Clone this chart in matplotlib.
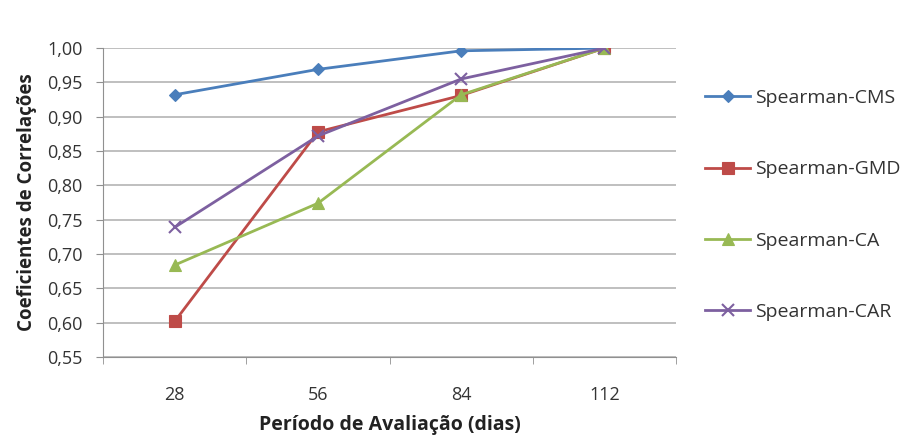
import matplotlib.pyplot as plt
import numpy as np

plt.rcParams['font.family'] = ['Open Sans', 'DejaVu Sans']

# data
periodos = ['28', '56', '84', '112']
cms = [0.932, 0.969, 0.996, 1.000]
gmd = [0.602, 0.878, 0.931, 1.000]
ca = [0.684, 0.774, 0.932, 1.000]
car = [0.739, 0.872, 0.955, 1.000]
nomes = ['Spearman-CMS', 'Spearman-GMD', 'Spearman-CA', 'Spearman-CAR']
yticks = [0.55, 0.60, 0.65, 0.70, 0.75, 0.80, 0.85, 0.90, 0.95, 1.00]

cores = ['#4A7EBB', '#BE4B48', '#98B954', '#7D60A0']
marcadores = ['D', 's', '^', 'x']
tamanhos = [6.5, 9, 8, 8]

fig = plt.figure(figsize=(9.05, 4.37), dpi=100)
ax = fig.add_axes([0.114, 0.183, 0.633, 0.707])

x = np.arange(len(periodos))
for serie, nome, c, m, s in zip([cms, gmd, ca, car], nomes, cores, marcadores, tamanhos):
    ax.plot(x, serie, color=c, marker=m, markersize=s, linewidth=2.0,
            markeredgewidth=1.5 if m == 'x' else 0.8, label=nome)

ax.set_xlim(-0.5, 3.5)
ax.set_ylim(0.55, 1.00)
ax.set_yticks(yticks)
ax.set_yticklabels([f'{v:.2f}'.replace('.', ',') for v in yticks], fontsize=13, color='#333333')
ax.set_xticks(x)
ax.set_xticklabels(periodos, fontsize=13, color='#333333')
ax.set_xticks(np.arange(-0.5, 4, 1), minor=True)
ax.tick_params(axis='x', which='major', length=0, pad=21)
ax.tick_params(axis='x', which='minor', length=5, color='#909090')
ax.tick_params(axis='y', length=5, color='#909090', pad=10)

ax.grid(axis='y', color='#b4b4b4', linewidth=1.2)
ax.set_axisbelow(True)
for lado in ['top', 'right']:
    ax.spines[lado].set_visible(False)
for lado in ['left', 'bottom']:
    ax.spines[lado].set_color('#909090')

ax.set_ylabel('Coeficientes de Correlações', fontsize=13.5, fontweight='bold', color='#222222', labelpad=7)
ax.set_xlabel('Período de Avaliação (dias)', fontsize=14, fontweight='bold', color='#222222', labelpad=8)

fig.legend(loc='upper left', bbox_to_anchor=(0.760, 0.836), frameon=False,
           fontsize=14, labelspacing=2.74, handlelength=2.3, handletextpad=0.25,
           labelcolor='#333333')

fig.savefig('out.png', dpi=100)
